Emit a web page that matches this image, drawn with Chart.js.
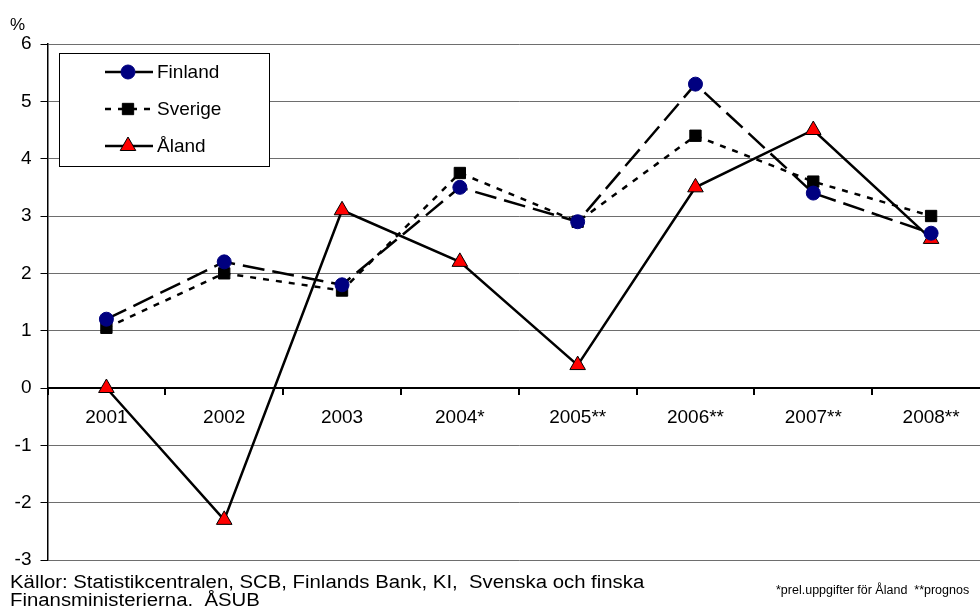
<!DOCTYPE html>
<html>
<head>
<meta charset="utf-8">
<script src="https://cdn.jsdelivr.net/npm/chart.js@4/dist/chart.umd.min.js"></script>
<style>
  html, body { margin: 0; padding: 0; background: #fff; }
  body { width: 980px; height: 612px; overflow: hidden; position: relative; font-family: "Liberation Sans", Arial, sans-serif; color: #000; }
  #wrap { position: absolute; left: 0; top: 0; width: 1000px; height: 612px; }
  .pct { position: absolute; left: 10px; top: 15px; font-size: 17px; }
  .src { position: absolute; left: 10px; top: 573px; font-size: 18px; line-height: 18px; white-space: nowrap; transform: scaleX(1.13); transform-origin: 0 0; }
  .note { position: absolute; left: 776px; top: 583px; font-size: 12.5px; white-space: nowrap; }
</style>
</head>
<body>
<div id="wrap"><canvas id="chart" width="1000" height="612"></canvas></div>
<div class="pct">%</div>
<div class="src">Källor: Statistikcentralen, SCB, Finlands Bank, KI,&nbsp; Svenska och finska<br>Finansministerierna.&nbsp; ÅSUB</div>
<div class="note">*prel.uppgifter för Åland&nbsp; **prognos</div>
<script>
// data
const years = ["2001", "2002", "2003", "2004*", "2005**", "2006**", "2007**", "2008**"];
const finland = [1.2, 2.2, 1.8, 3.5, 2.9, 5.3, 3.4, 2.7];
const sverige = [1.05, 2.0, 1.7, 3.75, 2.9, 4.4, 3.6, 3.0];
const aland = [0, -2.3, 3.1, 2.2, 0.4, 3.5, 4.5, 2.6];
const yTicks = [-3, -2, -1, 0, 1, 2, 3, 4, 5, 6];

const FONT = '"Liberation Sans", Arial, sans-serif';

// legend box drawn like the original (line + marker)
const boxLegend = {
  id: 'boxLegend',
  afterDatasetsDraw(chart) {
    const ctx = chart.ctx;
    ctx.save();
    ctx.fillStyle = '#fff';
    ctx.strokeStyle = '#000';
    ctx.lineWidth = 1;
    ctx.fillRect(59.5, 53.5, 210, 113);
    ctx.strokeRect(59.5, 53.5, 210, 113);
    chart.data.datasets.forEach((ds, i) => {
      const y = 72 + i * 37;
      ctx.strokeStyle = ds.borderColor;
      ctx.lineWidth = ds.borderWidth;
      ctx.setLineDash(ds.borderDash || []);
      ctx.beginPath();
      ctx.moveTo(105, y);
      ctx.lineTo(153, y);
      ctx.stroke();
      ctx.setLineDash([]);
      ctx.fillStyle = ds.pointBackgroundColor;
      ctx.strokeStyle = ds.pointBorderColor;
      ctx.lineWidth = ds.pointBorderWidth;
      Chart.helpers.drawPoint(ctx, { pointStyle: ds.pointStyle, radius: ds.pointRadius, borderWidth: ds.pointBorderWidth, rotation: 0 }, 128, y);
      ctx.fillStyle = '#000';
      ctx.font = '19px ' + FONT;
      ctx.textBaseline = 'middle';
      ctx.fillText(ds.label, 157, y + 1);
    });
    ctx.restore();
  }
};

const ctx = document.getElementById('chart').getContext('2d');
new Chart(ctx, {
  type: 'line',
  data: {
    labels: years,
    datasets: [
      {
        label: 'Finland', data: finland,
        borderColor: '#000', borderWidth: 2.5, borderDash: [22, 8],
        pointStyle: 'circle', pointRadius: 7,
        pointBackgroundColor: '#000080', pointBorderColor: '#000080', pointBorderWidth: 1
      },
      {
        label: 'Sverige', data: sverige,
        borderColor: '#000', borderWidth: 2.5, borderDash: [6, 7],
        pointStyle: 'rect', pointRadius: 8,
        pointBackgroundColor: '#000', pointBorderColor: '#000', pointBorderWidth: 1
      },
      {
        label: 'Åland', data: aland,
        borderColor: '#000', borderWidth: 2.5,
        pointStyle: 'triangle', pointRadius: 9,
        pointBackgroundColor: '#ff0000', pointBorderColor: '#000', pointBorderWidth: 1
      }
    ]
  },
  options: {
    responsive: false,
    animation: false,
    layout: { padding: { left: 0, right: 5, top: 44, bottom: 52 } },
    plugins: { legend: { display: false }, tooltip: { enabled: false } },
    elements: { line: { tension: 0 } },
    scales: {
      x: {
        position: { y: 0 },
        offset: true,
        afterFit(scale) { scale.paddingLeft = 0; scale.paddingRight = 0; },
        border: { color: '#000', width: 2 },
        grid: { offset: true, drawOnChartArea: false, drawTicks: true, tickLength: 6, color: '#000', lineWidth: 2 },
        ticks: { color: '#000', font: { family: FONT, size: 19 }, padding: 12, maxRotation: 0, autoSkip: false }
      },
      y: {
        min: -3, max: 6,
        afterFit(scale) { scale.width = 47.5; },
        afterBuildTicks(scale) { scale.ticks = yTicks.map(v => ({ value: v })); },
        border: { color: '#000', width: 1.5 },
        grid: { color: '#6e6e6e', lineWidth: 1, tickLength: 7, tickColor: '#000' },
        ticks: { color: '#000', font: { family: FONT, size: 19 }, padding: 9 }
      }
    }
  },
  plugins: [boxLegend]
});
</script>
</body>
</html>
